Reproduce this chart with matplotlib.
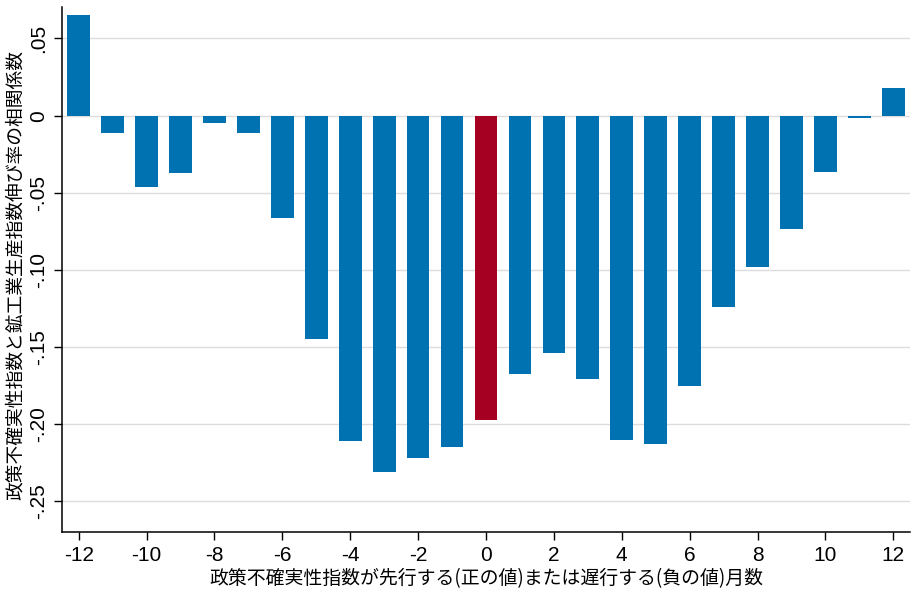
import matplotlib
matplotlib.use("Agg")
import matplotlib.pyplot as plt

months = list(range(-12, 13))
corr = [0.0652, -0.0110, -0.0464, -0.0373, -0.0047, -0.0110, -0.0663,
        -0.1448, -0.2109, -0.2312, -0.2221, -0.2150, -0.1975,
        -0.1673, -0.1537, -0.1707, -0.2100, -0.2128, -0.1753,
        -0.1237, -0.0980, -0.0732, -0.0367, -0.0015, 0.0179]
ytick_vals = [0.05, 0.0, -0.05, -0.10, -0.15, -0.20, -0.25]
ytick_labels = [".05", "0", "-.05", "-.10", "-.15", "-.20", "-.25"]
xtick_vals = list(range(-12, 13, 2))
xlabel = "政策不確実性指数が先行する(正の値)または遅行する(負の値)月数"
ylabel = "政策不確実性指数と鉱工業生産指数伸び率の相関係数"

blue = "#0072B2"
red = "#A50021"
colors = [red if m == 0 else blue for m in months]

cjk = ["Noto Sans CJK JP", "DejaVu Sans"]
num = ["Liberation Sans", "DejaVu Sans"]

fig = plt.figure(figsize=(9.11, 5.89), dpi=100)
ax = fig.add_axes([62/911, (589-532.3)/589, (910-62)/911, (532.3-7)/589])

ax.bar(months, corr, width=0.67, color=colors, zorder=3, linewidth=0)
ax.set_xlim(-12.49, 12.49)
ax.set_ylim(-0.270, 0.0704)

ax.set_yticks(ytick_vals)
ax.set_yticklabels(ytick_labels, rotation=90, va="center", family=num, fontsize=15)
ax.set_xticks(xtick_vals)
ax.set_xticklabels([str(v) for v in xtick_vals], family=num, fontsize=15)
ax.tick_params(axis="both", direction="out", length=6, width=1.0, color="black", pad=4)

ax.grid(axis="y", color="#dcdcdc", linewidth=1.0, zorder=0)
ax.set_axisbelow(True)
for s in ["top", "right"]:
    ax.spines[s].set_visible(False)
for s in ["left", "bottom"]:
    ax.spines[s].set_linewidth(1.1)
    ax.spines[s].set_color("black")

ax.set_xlabel(xlabel, family=cjk, fontsize=13.6, labelpad=2)
ax.set_ylabel(ylabel, family=cjk, fontsize=13.5)
ax.yaxis.set_label_coords(-0.043, 0.49)

fig.savefig("out.png", dpi=100, facecolor="white")
